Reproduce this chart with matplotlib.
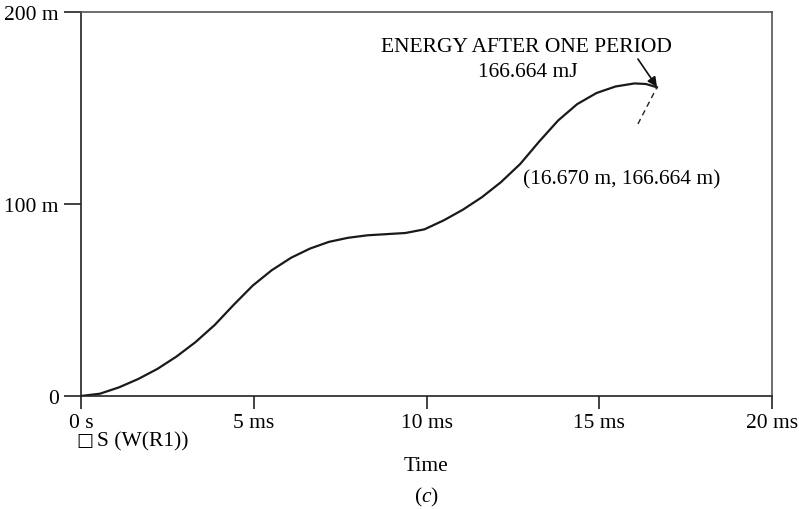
import matplotlib.pyplot as plt

# -------------------------
# データ (読み取り値)
# -------------------------
t_ms = [0, 0.55, 1.10, 1.65, 2.21, 2.76, 3.31, 3.87, 4.42, 4.97, 5.52, 6.08,
        6.63, 7.18, 7.73, 8.29, 8.84, 9.39, 9.94, 10.50, 11.05, 11.60,
        12.15, 12.71, 13.26, 13.81, 14.36, 14.92, 15.47, 16.02, 16.35, 16.67]
energy_mJ = [0, 1.2, 4.5, 8.8, 14.1, 20.5, 28.0, 37.0, 47.5, 57.5, 65.5, 72.0,
             76.8, 80.3, 82.4, 83.7, 84.3, 84.9, 86.8, 91.5, 97.0, 103.5,
             111.3, 120.8, 132.5, 143.5, 152.0, 157.8, 161.2, 162.8, 162.5, 160.8]

x_ticks = [0, 5, 10, 15, 20]
x_labels = ["0 s", "5 ms", "10 ms", "15 ms", "20 ms"]
y_ticks = [0, 100, 200]
y_labels = ["0", "100 m", "200 m"]

plt.rcParams["font.family"] = ["Liberation Serif", "DejaVu Serif"]
plt.rcParams["mathtext.fontset"] = "custom"
plt.rcParams["mathtext.rm"] = "Liberation Serif"
plt.rcParams["mathtext.it"] = "Liberation Serif:italic"
fs = 15.5

# -------------------------
# 描画
# -------------------------
fig = plt.figure(figsize=(7.99, 5.10), dpi=100)
ax = fig.add_axes([81 / 799, 1 - 397 / 510, (772 - 81) / 799, (397 - 13) / 510])

ax.plot(t_ms, energy_mJ, color="#1a1a1a", lw=1.6, solid_joinstyle="round")

ax.set_xlim(0, 20)
ax.set_ylim(0, 200)
ax.set_xticks(x_ticks)
ax.set_xticklabels(x_labels, fontsize=fs)
ax.set_yticks(y_ticks)
ax.set_yticklabels(y_labels, fontsize=fs)
ax.tick_params(axis="x", direction="out", length=9, width=1.2, pad=3, color="#222222")
ax.tick_params(axis="y", direction="out", length=12, width=1.2, pad=4, color="#222222")

for s in ["left", "bottom"]:
    ax.spines[s].set_color("#222222")
    ax.spines[s].set_linewidth(1.2)
for s in ["top", "right"]:
    ax.spines[s].set_color("#555555")
    ax.spines[s].set_linewidth(1.2)

# カーソル (破線)
ax.plot([16.12, 16.67], [141.7, 160.8], color="#222222", lw=1.0, ls=(0, (4, 3)))

# 注釈
ax.text(12.9, 182, "ENERGY AFTER ONE PERIOD", fontsize=fs, ha="center", va="center")
ax.text(12.92, 169, "166.664 mJ", fontsize=fs, ha="center", va="center")
ax.annotate("", xy=(16.67, 161), xytext=(16.12, 175.5),
            arrowprops=dict(arrowstyle="-|>", color="#111111", lw=1.2,
                            mutation_scale=14, shrinkA=0, shrinkB=0))
ax.text(12.79, 113, "(16.670 m, 166.664 m)", fontsize=fs, ha="left", va="center")

# 凡例・軸ラベル
fig.text(85 / 799, 1 - 441 / 510, "\u25a1", fontsize=13, ha="center", va="center",
         family=["DejaVu Sans"])
fig.text(97 / 799, 1 - 442 / 510, "S (W(R1))", fontsize=fs, ha="left", va="center")
fig.text(426 / 799, 1 - 467 / 510, "Time", fontsize=fs, ha="center", va="center")
fig.text(426 / 799, 1 - 497 / 510, "($c$)", fontsize=fs, ha="center", va="center")

plt.savefig("out.png", dpi=100)
